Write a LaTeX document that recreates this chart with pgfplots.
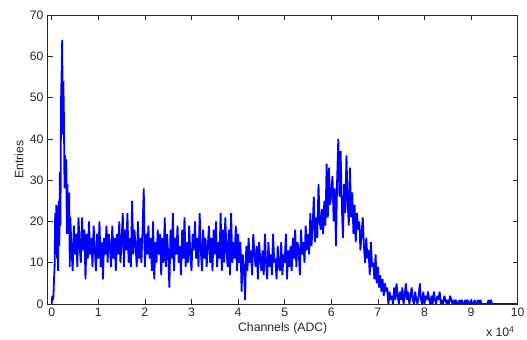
\documentclass[border=0pt]{standalone}
\usepackage{pgfplots}
\pgfplotsset{compat=1.18}
\usepackage{fontspec}
\setmainfont{Liberation Sans}
\definecolor{axgray}{gray}{0.15}
\begin{document}
\fontsize{12.3}{14}\selectfont
\begin{tikzpicture}
\useasboundingbox (-47.7bp,-36bp) rectangle (479.3bp,304bp);
\begin{axis}[
  at={(0,0)}, anchor=south west,
  scale only axis, width=470bp, height=289bp,
  xmin=-860, xmax=100000, ymin=0, ymax=70,
  xtick={0,10000,20000,30000,40000,50000,60000,70000,80000,90000,100000},
  xticklabels={0,1,2,3,4,5,6,7,8,9,10},
  scaled x ticks=false,
  ytick={0,10,20,30,40,50,60,70},
  xtick pos=both, ytick pos=both,
  tick align=inside, major tick length=5bp,
  tick style={axgray, line width=0.5bp},
  axis line style={axgray, line width=0.6bp},
  clip mode=individual,
  /pgf/number format/assume math mode=true,
  ticklabel style={font=\fontsize{12.3}{14}\selectfont, text=axgray},
  label style={font=\fontsize{12.3}{14}\selectfont, text=axgray},
  xlabel={Channels (ADC)},
  ylabel={Entries},
  xlabel style={yshift=3bp},
  ylabel style={yshift=-2bp},
]
\addplot[color={rgb,255:red,0;green,0;blue,255}, line width=1.8bp, mark=none, line join=miter, miter limit=3] coordinates {
(0,0)(125,2)(250,1)(375,2)(500,6)(625,9)(750,22)(875,12)(1000,24)(1125,11)(1250,19)(1375,8)(1500,25)(1625,14)(1750,32)(1875,19)
(2000,49)(2125,56)(2250,64)(2375,41)(2500,54)(2625,45)(2750,28)(2875,36)(3000,29)(3125,35)(3250,17)(3375,29)(3500,22)(3625,17)(3750,27)(3875,9)
(4000,21)(4250,13)(4500,8)(4750,19)
(5000,12)(5250,17)(5500,9)(5750,21)
(6000,14)(6250,10)(6500,21)(6750,13)
(7000,18)(7250,6)(7500,17)(7750,11)
(8000,20)(8250,12)(8500,16)(8750,9)
(9000,19)(9250,13)(9500,8)(9750,17)
(10000,11)(10250,20)(10500,9)(10750,15)
(11000,6)(11250,16)(11500,12)(11750,19)
(12000,10)(12250,17)(12500,14)(12750,9)
(13000,19)(13250,11)(13500,16)(13750,8)
(14000,17)(14250,12)(14500,20)(14750,10)
(15000,15)(15250,22)(15500,9)(15750,18)
(16000,13)(16250,22)(16500,10)(16750,16)
(17000,9)(17250,25)(17500,12)(17750,18)
(18000,14)(18250,9)(18500,20)(18750,11)
(19000,16)(19250,10)(19500,18)(19750,28)
(20000,9)(20250,17)(20500,12)(20750,19)
(21000,11)(21250,16)(21500,8)(21750,20)
(22000,6)(22250,15)(22500,10)(22750,18)
(23000,12)(23250,17)(23500,7)(23750,16)
(24000,10)(24250,21)(24500,9)(24750,17)
(25000,12)(25250,4)(25500,18)(25750,11)
(26000,22)(26250,8)(26500,16)(26750,12)
(27000,19)(27250,10)(27500,14)(27750,7)
(28000,18)(28250,11)(28500,21)(28750,9)
(29000,15)(29250,10)(29500,19)(29750,12)
(30000,8)(30250,17)(30500,13)(30750,20)
(31000,11)(31250,16)(31500,9)(31750,22)
(32000,13)(32250,8)(32500,18)(32750,11)
(33000,16)(33250,9)(33500,14)(33750,19)
(34000,10)(34250,16)(34500,8)(34750,18)
(35000,12)(35250,20)(35500,9)(35750,15)
(36000,11)(36250,22)(36500,8)(36750,18)
(37000,10)(37250,21)(37500,13)(37750,9)
(38000,18)(38250,7)(38500,22)(38750,10)
(39000,15)(39250,11)(39500,19)(39750,8)
(40000,17)(40250,10)(40500,15)(40750,3)
(41000,12)(41250,9)(41500,1)(41750,14)
(42000,8)(42250,16)(42500,10)(42750,13)
(43000,7)(43250,17)(43500,12)(43750,9)
(44000,14)(44250,6)(44500,15)(44750,11)
(45000,8)(45250,13)(45500,7)(45750,17)
(46000,10)(46250,6)(46500,15)(46750,9)
(47000,12)(47250,7)(47500,17)(47750,10)
(48000,11)(48250,6)(48500,14)(48750,9)
(49000,8)(49250,15)(49500,7)(49750,12)
(50000,10)(50250,17)(50500,6)(50750,13)
(51000,9)(51250,14)(51500,8)(51750,16)
(52000,11)(52250,18)(52500,9)(52750,15)
(53000,13)(53250,7)(53500,18)(53750,12)
(54000,15)(54250,10)(54500,19)(54750,13)
(55000,17)(55250,12)(55500,22)(55750,14)
(56000,19)(56250,26)(56500,15)(56750,21)
(57000,16)(57250,29)(57500,20)(57750,18)
(58000,23)(58250,17)(58500,25)(58750,19)
(59000,34)(59250,21)(59500,33)(59750,24)
(60000,27)(60250,31)(60500,20)(60750,28)
(61000,14)(61250,30)(61500,40)(61750,26)
(62000,37)(62250,24)(62500,16)(62750,29)
(63000,22)(63250,36)(63500,25)(63750,19)
(64000,33)(64250,21)(64500,27)(64750,17)
(65000,24)(65250,15)(65500,22)(65750,18)
(66000,20)(66250,13)(66500,17)(66750,21)
(67000,14)(67250,10)(67500,16)(67750,11)
(68000,13)(68250,7)(68500,15)(68750,9)
(69000,10)(69250,6)(69500,12)(69750,5)
(70000,9)(70250,4)(70500,7)(70750,3)
(71000,6)(71250,2)(71500,5)(71750,3)
(72000,4)(72250,0)(72500,3)(72750,1)
(73000,2)(73250,0)(73500,4)(73750,1)
(74000,5)(74250,2)(74500,0)(74750,3)
(75000,1)(75250,4)(75500,0)(75750,2)
(76000,5)(76250,1)(76500,3)(76750,0)
(77000,2)(77250,4)(77500,1)(77750,0)
(78000,3)(78250,1)(78500,0)(78750,2)
(79000,5)(79250,1)(79500,0)(79750,3)
(80000,0)(80250,2)(80500,1)(80750,3)
(81000,1)(81250,0)(81500,2)(81750,0)
(82000,3)(82250,1)(82500,0)(82750,2)
(83000,1)(83250,3)(83500,0)(83750,1)
(84000,0)(84250,2)(84500,1)(84750,0)
(85000,1)(85250,0)(85500,2)(85750,1)
(86000,0)(86250,1)(86500,0)(86750,1)
(87000,0)(87250,0)(87500,1)(87750,0)
(88000,1)(88250,0)(88500,0)(88750,1)
(89000,0)(89250,1)(89500,0)(89750,0)
(90000,1)(90250,0)(90500,0)(90750,1)
(91000,0)(91250,0)(91500,1)(91750,0)
(92000,1)(92250,0)(92500,0)(92750,0)
(93000,0)(93250,0)(93500,0)(93750,1)
(94000,0)(94250,1)(94500,0)(94750,0)
(95000,0)(100000,0)
};
\node[anchor=north east, inner sep=0pt, text=axgray, font=\fontsize{12.3}{14}\selectfont] at (rel axis cs:1,0) [yshift=-22bp, xshift=-3bp] {x 10\textsuperscript{4}};
\end{axis}
\end{tikzpicture}
\end{document}
